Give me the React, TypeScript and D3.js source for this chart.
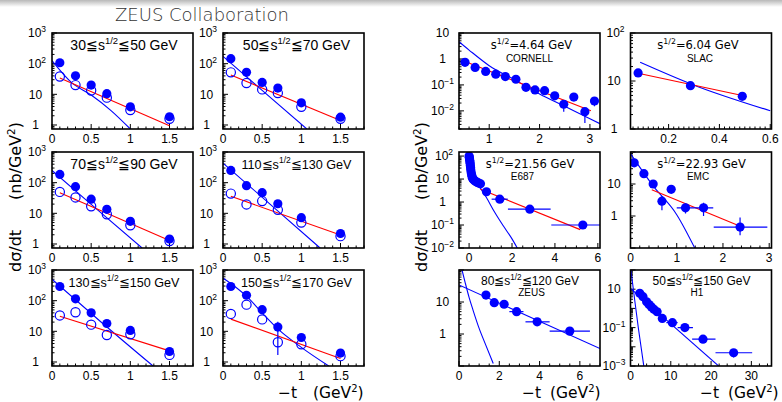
import React from "react";
import * as d3 from "d3";

const SANS = "'Liberation Sans', Arial, Helvetica, sans-serif";
const DEJA = "'DejaVu Sans', 'Liberation Sans', sans-serif";
const BLUE = "#0000ff";
const RED = "#ff0000";

// ---------------- ZEUS (left) panels ----------------
const tZeus = [0.1, 0.3, 0.5, 0.7, 1.0, 1.5];
const rangeLow = [30, 50, 70, 110, 130, 150];
const rangeHigh = [50, 70, 90, 130, 150, 170];

const filled30 = [107, 40, 20, 10.5, 3.9, 1.86];
const open30 = [38, 20, 13.3, 7.8, 3.06, 1.6];
const filled50 = [145, 52, 24.5, 16, 5.3, 1.8];
const open50 = [52, 23.5, 14.5, 11, 3.9, 1.6];
const filled70 = [186, 74, 29, 13.5, 5.5, 1.45];
const open70 = [50, 33, 17, 9.3, 4.1, 1.25];
const filled110 = [250, 80, 47, 20.5, 7.2, 2.2];
const open110 = [44, 19.5, 25, 13, 5, 1.8];
const filled130 = [290, 115, 40, 18, 10.7, 2.2];
const open130 = [33, 42, 16.5, 7.6, 8, 1.7];
const filled150 = [290, 150, 51, 13.8, 6.3, 1.95];
const open150 = [37, 74, 24.5, 4.4, 3.8, 1.55];
const open150Lo = [null, null, null, 1.7, null, null];
const open150Hi = [null, null, null, 20.5, null, null];

const tRedZeus = [0.1, 1.5];
const red30 = [34, 0.95];
const red50 = [43, 1.4];
const red70 = [47, 1.3];
const red110 = [36, 1.95];
const red130 = [31, 2.3];
const red150 = [25, 1.3];

const tBlue30 = [0, 0.25, 0.5, 0.75, 1.0];
const vBlue30 = [125, 24, 9.5, 3.0, 0.74];
const tBlue50 = [0, 0.5, 1.07];
const vBlue50 = [173, 13.5, 0.74];
const tBlue70 = [0, 0.5, 1.15];
const vBlue70 = [250, 19.5, 0.74];
const tBlue110 = [0, 0.6, 1.24];
const vBlue110 = [435, 20, 0.74];
const tBlue130 = [0, 0.6, 1.29];
const vBlue130 = [500, 23, 0.74];
const tBlue150 = [0, 0.3, 0.5, 0.7, 1.0, 1.35];
const vBlue150 = [550, 140, 40, 12, 3, 0.74];

const zeusXTicks = [0, 0.5, 1, 1.5];

// ---------------- CORNELL ----------------
const tCornell = [0.52, 0.72, 0.93, 1.13, 1.32, 1.53, 1.73, 1.91, 2.1, 2.3, 2.48, 2.68, 2.9, 3.09];
const vCornell = [0.74, 0.47, 0.33, 0.26, 0.21, 0.165, 0.081, 0.064, 0.06, 0.038, 0.018, 0.034, 0.0093, 0.024];
const loCornell = [null, null, null, null, null, null, null, null, null, null, 0.0093, null, 0.0034, 0.015];
const tRedCornell = [0.52, 3.02];
const vRedCornell = [0.79, 0.01];
const tBlueCornell = [0.4, 0.6, 1.0, 1.5, 2.0, 2.5, 3.0, 3.2];
const vBlueCornell = [4.6, 2.2, 0.55, 0.16, 0.045, 0.015, 0.005, 0.0032];

// ---------------- SLAC ----------------
const tSlac = [0.08, 0.286, 0.49];
const vSlac = [14.7, 8.0, 4.8];
const tRedSlac = [0.08, 0.49];
const vRedSlac = [14.5, 5.0];
const tBlueSlac = [0.088, 0.29, 0.6];
const vBlueSlac = [24.5, 8.6, 2.4];

// ---------------- E687 ----------------
const tE687Low = [0, 0.01, 0.02, 0.03, 0.04, 0.05, 0.06, 0.07, 0.08, 0.1, 0.12, 0.14, 0.16, 0.2, 0.26, 0.32, 0.37, 0.45, 0.53];
const vE687Low = [100, 88, 76, 65, 55, 46, 38, 31, 25, 19, 15, 12.5, 10.8, 9.6, 8.5, 7.8, 7.2, 6.7, 6.2];
const tE687 = [0.81, 1.43, 2.83, 5.3];
const vE687 = [2.8, 1.33, 0.49, 0.1];
const xloE687 = [0.66, 1.05, 1.81, 3.83];
const xhiE687 = [0.96, 1.8, 3.8, 6.8];
const tRedE687 = [0.53, 5.18];
const vRedE687 = [3.6, 0.063];
const tBlueE687 = [0.37, 0.8, 1.2, 1.6, 2.0, 2.3];
const vBlueE687 = [6.6, 1.6, 0.35, 0.09, 0.025, 0.008];

// ---------------- EMC ----------------
const tEmc = [0.08, 0.29, 0.49, 0.68, 0.88, 1.19, 1.58, 2.37];
const vEmc = [46, 21, 10, 2.9, 6.8, 1.8, 1.8, 0.45];
const xloEmc = [null, null, null, null, null, 1.0, 1.39, 1.8];
const xhiEmc = [null, null, null, null, null, 1.39, 1.79, 2.96];
const yloEmc = [null, null, null, 1.5, null, 1.2, 1.0, 0.25];
const yhiEmc = [null, null, null, 4.2, null, 2.5, 2.6, 0.9];
const tRedEmc = [0.46, 2.36];
const vRedEmc = [6.6, 0.49];
const tBlueEmc = [0, 0.49, 1.0, 1.39];
const vBlueEmc = [89, 8.7, 1.1, 0.1];

// ---------------- ZEUS high |t| ----------------
const tZeusHi = [1.34, 1.75, 2.24, 2.86, 3.88, 5.5];
const vZeusHi = [16.5, 9.5, 8.5, 5.0, 2.4, 1.23];
const xloZeusHi = [null, null, null, 2.5, 3.3, 4.5];
const xhiZeusHi = [null, null, null, 3.2, 4.5, 6.5];
const tFitZeusHi = [0, 7];
const vFitZeusHi = [34, 0.35];
const tSteepZeusHi = [0.15, 0.3, 0.5, 0.7, 1.0, 1.3, 1.7];
const vSteepZeusHi = [100, 42, 14, 5.5, 1.5, 0.5, 0.12];

// ---------------- H1 ----------------
const tH1 = [2.3, 3.1, 4.0, 4.6, 5.2, 5.8, 6.6, 7.9, 10.4, 13.5, 18.0, 25.6];
const vH1 = [6.1, 4.1, 2.2, 1.6, 1.2, 0.9, 0.67, 0.3, 0.18, 0.1, 0.025, 0.0049];
const xloH1 = [null, null, null, null, null, null, null, null, 8.9, 11.7, 15.3, 21.1];
const xhiH1 = [null, null, null, null, null, null, null, null, 11.7, 15.5, 21.1, 30.2];
const yloH1 = [null, null, null, null, null, null, null, null, null, null, null, 0.0028];
const yhiH1 = [null, null, null, null, null, null, null, null, null, null, null, 0.0076];
const tFitH1 = [0, 22];
const vFitH1 = [11, 0.00095];
const tSteepH1 = [0.1, 1.0, 2.0, 3.3];
const vSteepH1 = [100, 3.2, 0.08, 0.001];

// ---------------- layout ----------------
const PW = 141;
const PH = 96;
const colX = [52, 223, 459, 630.5];
const rowY = [33, 152, 270];

type Pt = [number, number];
type N = number | null;
interface SeriesCfg {
  t: number[]; v: number[]; open?: boolean;
  xlo?: N[]; xhi?: N[]; ylo?: N[]; yhi?: N[];
}
interface CurveCfg { t: number[]; v: number[]; color: string; }
interface YLab { v: number; base: string; exp?: string; }
interface PanelCfg {
  id: string; x: number; y: number;
  xd: [number, number]; yd: [number, number];
  xMajor: number[]; xMinor: number; yLabs: YLab[];
  series: SeriesCfg[]; curves: CurveCfg[];
  pre: string; post: string; fs: number; labFont: string; labDy: number; labDx: number;
  sub?: string; subDy?: number; subDx?: number;
}

const zip = (t: number[], v: number[]): Pt[] => t.map((x, i) => [x, v[i]]);

function Panel({ p }: { p: PanelCfg }) {
  const xs = d3.scaleLinear().domain(p.xd).range([p.x, p.x + PW]);
  const ys = d3.scaleLog().domain(p.yd).range([p.y + PH, p.y]);
  const bottom = p.y + PH;
  const line = d3
    .line<Pt>()
    .x((d) => xs(d[0]))
    .y((d) => ys(d[1]))
    .curve(d3.curveMonotoneX);

  const mn = Math.ceil(p.xd[0] / p.xMinor - 1e-6);
  const mx = Math.floor(p.xd[1] / p.xMinor + 1e-6);
  const minorX = d3.range(mn, mx + 1).map((i) => +(i * p.xMinor).toFixed(5));
  const isMajor = (v: number) => p.xMajor.some((m) => Math.abs(m - v) < 1e-6);

  const lo = Math.floor(Math.log10(p.yd[0]));
  const hi = Math.ceil(Math.log10(p.yd[1]));
  const yt: { v: number; major: boolean }[] = [];
  for (let d = lo; d <= hi; d++) {
    for (let k = 1; k <= 9; k++) {
      const v = k * Math.pow(10, d);
      if (v >= p.yd[0] * 0.999 && v <= p.yd[1] * 1.001) yt.push({ v, major: k === 1 });
    }
  }
  const clip = `clip-${p.id}`;

  return (
    <g>
      <defs>
        <clipPath id={clip}>
          <rect x={p.x} y={p.y} width={PW} height={PH} />
        </clipPath>
      </defs>
      <g stroke="#000" strokeWidth={1}>
        {minorX.map((v) => (
          <line key={"x" + v} x1={xs(v)} x2={xs(v)} y1={bottom} y2={bottom - (isMajor(v) ? 5 : 2.5)} />
        ))}
        {yt.map(({ v, major }) => (
          <line key={"y" + v} x1={p.x} x2={p.x + (major ? 5 : 2.5)} y1={ys(v)} y2={ys(v)} />
        ))}
      </g>
      <g clipPath={`url(#${clip})`}>
        {p.curves.map((c, i) => (
          <path key={"c" + i} d={line(zip(c.t, c.v)) || ""} fill="none" stroke={c.color} strokeWidth={1.1} />
        ))}
        {p.series.map((s, si) => (
          <g key={"s" + si}>
            {s.t.map((t, i) => {
              const cx = xs(t);
              const cy = ys(s.v[i]);
              const xl = s.xlo ? s.xlo[i] : null;
              const xh = s.xhi ? s.xhi[i] : null;
              const yl = s.ylo ? s.ylo[i] : null;
              const yh = s.yhi ? s.yhi[i] : null;
              return (
                <g key={i}>
                  {xl != null && xh != null && (
                    <line x1={xs(xl)} x2={xs(xh)} y1={cy} y2={cy} stroke={BLUE} strokeWidth={1.2} />
                  )}
                  {(yl != null || yh != null) && (
                    <line x1={cx} x2={cx} y1={ys(yl != null ? yl : s.v[i])} y2={ys(yh != null ? yh : s.v[i])} stroke={BLUE} strokeWidth={1.2} />
                  )}
                  {s.open ? (
                    <circle cx={cx} cy={cy} r={4.6} fill="none" stroke={BLUE} strokeWidth={1.2} />
                  ) : (
                    <circle cx={cx} cy={cy} r={4.6} fill={BLUE} />
                  )}
                </g>
              );
            })}
          </g>
        ))}
      </g>
      <rect x={p.x} y={p.y} width={PW} height={PH} fill="none" stroke="#000" strokeWidth={1.6} />
      {p.xMajor.map((v) => (
        <text key={"xl" + v} x={xs(v)} y={bottom + 13.5} textAnchor="middle" fontFamily={SANS} fontSize={12}>
          {String(v)}
        </text>
      ))}
      {p.yLabs.map((l) => {
        const yy = ys(l.v) + 4.2;
        if (l.exp) {
          const neg = l.exp.startsWith("−");
          return (
            <text key={"yl" + l.v} x={p.x - (neg ? 28 : 24)} y={yy} fontFamily={SANS} fontSize={12}>
              {l.base}
              <tspan dy={-5} fontSize={8.5}>{l.exp}</tspan>
            </text>
          );
        }
        return (
          <text key={"yl" + l.v} x={p.x - 16.5} y={yy} textAnchor="middle" fontFamily={SANS} fontSize={12}>
            {l.base}
          </text>
        );
      })}
      <text x={p.x + PW / 2 + p.labDx} y={p.y + p.labDy} textAnchor="middle" fontFamily={p.labFont} fontSize={p.fs}>
        {p.pre}
        <tspan dy={-p.fs * 0.42} fontSize={p.fs * 0.68}>1/2</tspan>
        <tspan dy={p.fs * 0.42}>{p.post}</tspan>
      </text>
      {p.sub && (
        <text x={p.x + PW / 2 + (p.subDx || 0)} y={p.y + (p.subDy || 28)} textAnchor="middle" fontFamily={SANS} fontSize={10}>
          {p.sub}
        </text>
      )}
    </g>
  );
}

const zeusYLabs: YLab[] = [
  { v: 1000, base: "10", exp: "3" },
  { v: 100, base: "10", exp: "2" },
  { v: 10, base: "10" },
  { v: 1, base: "1" },
];

function zeusPanel(i: number, filled: number[], open: number[], red: number[], bt: number[], bv: number[], extra?: Partial<SeriesCfg>): PanelCfg {
  const col = i % 2;
  const row = Math.floor(i / 2);
  return {
    id: "z" + i,
    x: colX[col],
    y: rowY[row],
    xd: [0, 1.8],
    yd: [0.74, 1000],
    xMajor: zeusXTicks,
    xMinor: 0.1,
    yLabs: zeusYLabs,
    series: [
      { t: tZeus, v: filled },
      { t: tZeus, v: open, open: true, ...(extra || {}) },
    ],
    curves: [
      { t: bt, v: bv, color: BLUE },
      { t: tRedZeus, v: red, color: RED },
    ],
    pre: `${rangeLow[i]}≦s`,
    post: `≦${rangeHigh[i]} GeV`,
    fs: rangeLow[i] >= 100 ? 12.6 : 14,
    labFont: SANS,
    labDy: 16.5,
    labDx: col === 0 ? 1.5 : 3,
  };
}

export default function App() {
  const panels: PanelCfg[] = [
    zeusPanel(0, filled30, open30, red30, tBlue30, vBlue30),
    zeusPanel(1, filled50, open50, red50, tBlue50, vBlue50),
    zeusPanel(2, filled70, open70, red70, tBlue70, vBlue70),
    zeusPanel(3, filled110, open110, red110, tBlue110, vBlue110),
    zeusPanel(4, filled130, open130, red130, tBlue130, vBlue130),
    zeusPanel(5, filled150, open150, red150, tBlue150, vBlue150, { ylo: open150Lo, yhi: open150Hi }),
    {
      id: "cornell", x: colX[2], y: rowY[0], xd: [0.4, 3.2], yd: [0.002, 10],
      xMajor: [1, 2, 3], xMinor: 0.2,
      yLabs: [
        { v: 10, base: "10" },
        { v: 1, base: "1" },
        { v: 0.1, base: "10", exp: "−1" },
        { v: 0.01, base: "10", exp: "−2" },
      ],
      series: [{ t: tCornell, v: vCornell, ylo: loCornell }],
      curves: [
        { t: tBlueCornell, v: vBlueCornell, color: BLUE },
        { t: tRedCornell, v: vRedCornell, color: RED },
      ],
      pre: "s", post: "=4.64 GeV", fs: 11.5, labFont: DEJA, labDy: 16, labDx: 2, sub: "CORNELL", subDy: 29, subDx: 0,
    },
    {
      id: "slac", x: colX[3], y: rowY[0], xd: [0.05, 0.605], yd: [1, 100],
      xMajor: [0.2, 0.4, 0.6], xMinor: 0.02,
      yLabs: [
        { v: 100, base: "10", exp: "2" },
        { v: 10, base: "10" },
        { v: 1, base: "1" },
      ],
      series: [{ t: tSlac, v: vSlac }],
      curves: [
        { t: tBlueSlac, v: vBlueSlac, color: BLUE },
        { t: tRedSlac, v: vRedSlac, color: RED },
      ],
      pre: "s", post: "=6.04 GeV", fs: 11.5, labFont: DEJA, labDy: 16, labDx: -3, sub: "SLAC", subDy: 29, subDx: -1,
    },
    {
      id: "e687", x: colX[2], y: rowY[1], xd: [-0.47, 6.1], yd: [0.01, 150],
      xMajor: [0, 2, 4, 6], xMinor: 0.5,
      yLabs: [
        { v: 100, base: "10", exp: "2" },
        { v: 10, base: "10" },
        { v: 1, base: "1" },
        { v: 0.1, base: "10", exp: "−1" },
        { v: 0.01, base: "10", exp: "−2" },
      ],
      series: [
        { t: tE687Low, v: vE687Low },
        { t: tE687, v: vE687, xlo: xloE687, xhi: xhiE687 },
      ],
      curves: [
        { t: tBlueE687, v: vBlueE687, color: BLUE },
        { t: tRedE687, v: vRedE687, color: RED },
      ],
      pre: "s", post: "=21.56 GeV", fs: 11.5, labFont: DEJA, labDy: 16, labDx: 0.5, sub: "E687", subDy: 27.5, subDx: -7,
    },
    {
      id: "emc", x: colX[3], y: rowY[1], xd: [0, 3.05], yd: [0.1, 100],
      xMajor: [0, 1, 2, 3], xMinor: 0.2,
      yLabs: [
        { v: 10, base: "10" },
        { v: 1, base: "1" },
      ],
      series: [{ t: tEmc, v: vEmc, xlo: xloEmc, xhi: xhiEmc, ylo: yloEmc, yhi: yhiEmc }],
      curves: [
        { t: tBlueEmc, v: vBlueEmc, color: BLUE },
        { t: tRedEmc, v: vRedEmc, color: RED },
      ],
      pre: "s", post: "=22.93 GeV", fs: 11.5, labFont: DEJA, labDy: 16, labDx: 0.5, sub: "EMC", subDy: 27.5, subDx: -3,
    },
    {
      id: "zeushi", x: colX[2], y: rowY[2], xd: [0, 7], yd: [0.1, 100],
      xMajor: [0, 2, 4, 6], xMinor: 0.5,
      yLabs: [
        { v: 10, base: "10" },
        { v: 1, base: "1" },
      ],
      series: [{ t: tZeusHi, v: vZeusHi, xlo: xloZeusHi, xhi: xhiZeusHi }],
      curves: [
        { t: tFitZeusHi, v: vFitZeusHi, color: BLUE },
        { t: tSteepZeusHi, v: vSteepZeusHi, color: BLUE },
      ],
      pre: "80≦s", post: "≦120 GeV", fs: 12, labFont: SANS, labDy: 15, labDx: 0.5, sub: "ZEUS", subDy: 26, subDx: 2,
    },
    {
      id: "h1", x: colX[3], y: rowY[2], xd: [0, 35], yd: [0.001, 100],
      xMajor: [0, 10, 20, 30], xMinor: 2,
      yLabs: [
        { v: 10, base: "10" },
        { v: 0.1, base: "10", exp: "−1" },
        { v: 0.001, base: "10", exp: "−3" },
      ],
      series: [{ t: tH1, v: vH1, xlo: xloH1, xhi: xhiH1, ylo: yloH1, yhi: yhiH1 }],
      curves: [
        { t: tFitH1, v: vFitH1, color: BLUE },
        { t: tSteepH1, v: vSteepH1, color: BLUE },
      ],
      pre: "50≦s", post: "≦150 GeV", fs: 12, labFont: SANS, labDy: 15, labDx: 0.5, sub: "H1", subDy: 26, subDx: -4,
    },
  ];

  const yTitle = (x: number) => (
    <g>
      <text transform={`translate(${x},272) rotate(-90)`} fontFamily={DEJA} fontSize={16}>
        dσ/dt
      </text>
      <text transform={`translate(${x},200) rotate(-90)`} fontFamily={DEJA} fontSize={16}>
        (nb/GeV
        <tspan dy={-6} fontSize={10.5}>2</tspan>
        <tspan dy={6}>)</tspan>
      </text>
    </g>
  );

  const xTitle = (x1: number, x2: number) => (
    <g fontFamily={DEJA} fontSize={15.5}>
      <text x={x1} y={398}>−t</text>
      <text x={x2} y={398}>
        (GeV
        <tspan dy={-6} fontSize={10}>2</tspan>
        <tspan dy={6}>)</tspan>
      </text>
    </g>
  );

  return (
    <svg
      width={782}
      height={402}
      viewBox="0 0 782 402"
      style={{ position: "absolute", left: 0, top: 0, display: "block", background: "#fff" }}
    >
      <defs>
        <linearGradient id="topband" x1="0" y1="0" x2="0" y2="1">
          <stop offset="0" stopColor="#b8b8b8" />
          <stop offset="1" stopColor="#ffffff" />
        </linearGradient>
      </defs>
      <rect x={0} y={0} width={782} height={402} fill="#fff" />
      <rect x={0} y={0} width={782} height={7} fill="url(#topband)" />
      <text x={202} y={21} textAnchor="middle" fontFamily={DEJA} fontSize={18} fontWeight={200} fill="#333">
        ZEUS Collaboration
      </text>
      {panels.map((p) => (
        <Panel key={p.id} p={p} />
      ))}
      {yTitle(21)}
      {yTitle(427)}
      {xTitle(278, 313)}
      {xTitle(522, 550)}
      {xTitle(700, 728)}
    </svg>
  );
}
